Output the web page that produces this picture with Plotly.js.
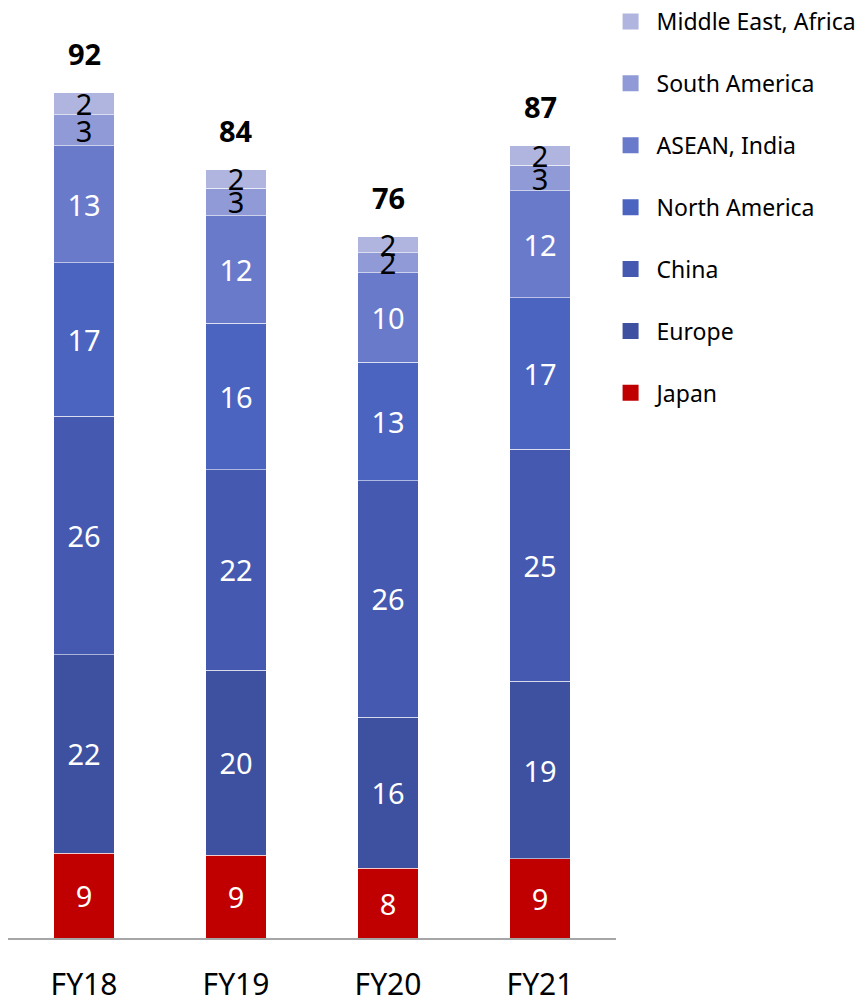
<!DOCTYPE html>
<html><head><meta charset="utf-8">
<script src="https://cdn.plot.ly/plotly-3.0.1.min.js"></script>
<style>html,body{margin:0;padding:0;background:#fff;}#chart{width:860px;height:1000px;}</style>
</head><body><div id="chart"></div>
<script>
const categories = ["FY18", "FY19", "FY20", "FY21"];
// segment values (labels below are the rounded figures shown)
const japan = [9.2, 9.0, 7.6, 8.6];
const europe = [21.6, 20.1, 16.4, 19.3];
const china = [25.9, 21.8, 25.7, 25.2];
const northAmerica = [16.7, 15.9, 12.9, 16.5];
const aseanIndia = [12.7, 11.7, 9.7, 11.6];
const southAmerica = [3.4, 3.0, 2.2, 2.8];
const middleEastAfrica = [2.4, 2.0, 1.7, 2.1];
// labels as printed on the chart
const japanLabels = ["9", "9", "8", "9"];
const europeLabels = ["22", "20", "16", "19"];
const chinaLabels = ["26", "22", "26", "25"];
const northAmericaLabels = ["17", "16", "13", "17"];
const aseanIndiaLabels = ["13", "12", "10", "12"];
const southAmericaLabels = ["3", "3", "2", "3"];
const middleEastAfricaLabels = ["2", "2", "2", "2"];
const totalLabels = ["92", "84", "76", "87"];

const seriesNames = ["Japan", "Europe", "China", "North America", "ASEAN, India", "South America", "Middle East, Africa"];
const seriesValues = [japan, europe, china, northAmerica, aseanIndia, southAmerica, middleEastAfrica];
const seriesLabels = [japanLabels, europeLabels, chinaLabels, northAmericaLabels, aseanIndiaLabels, southAmericaLabels, middleEastAfricaLabels];
const seriesColors = ["#C00000", "#3E50A0", "#4659B0", "#4A64C0", "#6A7ACB", "#8F9AD6", "#AFB5DE"];
const textColors = ["#fff", "#fff", "#fff", "#fff", "#fff", "#000", "#000"];

const FONT = "Segoe UI, Noto Sans, Open Sans, sans-serif";
const traces = [];
seriesNames.forEach((name, i) => {
  traces.push({
    type: "bar", x: categories, y: seriesValues[i], name: name,
    marker: {color: seriesColors[i], line: {color: "rgba(255,255,255,0.55)", width: 1}},
    text: seriesLabels[i], textposition: "inside", insidetextanchor: "middle",
    textangle: 0, constraintext: "none", cliponaxis: false,
    textfont: {family: FONT, size: 29, color: textColors[i]},
    showlegend: false, hoverinfo: "skip"
  });
});
// legend-only marker traces (top entry = last series)
seriesNames.forEach((name, i) => {
  traces.push({
    type: "scatter", mode: "markers", x: [null], y: [null], name: name,
    legendgroup: "g" + i, legendrank: 100 - i,
    marker: {symbol: "square", size: 16, color: seriesColors[i]},
    showlegend: true
  });
});

const stackTops = categories.map((c, j) => seriesValues.reduce((s, arr) => s + arr[j], 0));
const annotations = categories.map((c, j) => ({
  x: c, y: stackTops[j], xref: "x", yref: "y", text: "<b>" + totalLabels[j] + "</b>",
  showarrow: false, yanchor: "bottom", yshift: 18,
  font: {family: FONT, size: 29, color: "#000"}
}));

const layout = {
  width: 860, height: 1000,
  margin: {l: 8, r: 244, t: 20, b: 62, autoexpand: false},
  barmode: "stack", bargap: 0.6,
  paper_bgcolor: "#fff", plot_bgcolor: "#fff",
  font: {family: FONT, color: "#000"},
  xaxis: {
    type: "category", range: [-0.5, 3.5], showgrid: false, zeroline: false,
    showline: true, linecolor: "#A6A6A6", linewidth: 2, ticks: "",
    tickfont: {family: FONT, size: 30, color: "#000"}, ticklabelstandoff: 19,
    automargin: false
  },
  yaxis: {range: [0, 99.78], visible: false, showgrid: false, zeroline: false},
  legend: {
    xref: "container", yref: "container", x: 0.703, y: 1.006, xanchor: "left", yanchor: "top",
    traceorder: "grouped", tracegroupgap: 29, itemwidth: 42,
    font: {family: FONT, size: 23, color: "#000"}, bgcolor: "rgba(0,0,0,0)"
  },
  annotations: annotations,
  showlegend: true
};
Plotly.newPlot("chart", traces, layout, {displayModeBar: false, staticPlot: true});
</script></body></html>
